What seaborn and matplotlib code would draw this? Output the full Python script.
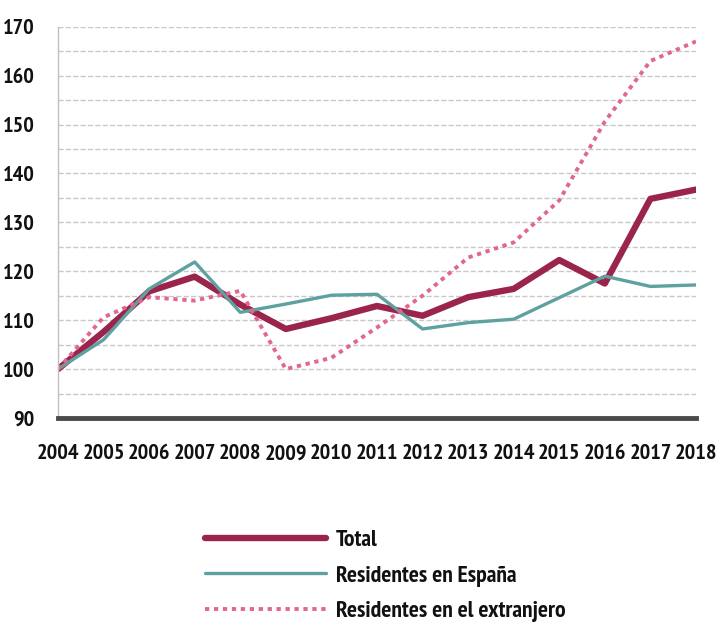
import matplotlib
matplotlib.use('Agg')
import matplotlib.pyplot as plt
from matplotlib.ticker import MultipleLocator
from matplotlib import font_manager
import seaborn as sns
import pandas as pd

years = list(range(2004, 2019))
total = [100, 107.6, 115.9, 118.9, 113.2, 108.2, 110.4, 112.9, 110.9, 114.7, 116.4, 122.3, 117.5, 134.8, 136.7]
espana = [100, 106.0, 116.4, 121.9, 111.6, 113.3, 115.1, 115.3, 108.2, 109.5, 110.2, 114.6, 119.0, 116.9, 117.2]
extranjero = [100, 110.6, 114.7, 114.0, 116.0, 100.0, 102.3, 108.5, 115.0, 122.8, 125.9, 134.5, 150.6, 163.0, 167.0]

labels = ['Total', 'Residentes en España', 'Residentes en el extranjero']
colors = ['#9b244b', '#5fa0a0', '#e06890']

sns.set_style('white')
plt.rcParams['font.family'] = ['DejaVu Sans']

# look for a condensed bold face on the system
cands = [f.fname for f in font_manager.fontManager.ttflist
         if ('Condensed' in f.fname or 'Narrow' in f.fname) and 'Bold' in f.fname
         and 'Oblique' not in f.fname and 'Italic' not in f.fname]
cands.sort(key=lambda p: ('Narrow' not in p, p))
if cands:
    fp_tick = font_manager.FontProperties(fname=cands[0], size=16)
    fp_leg = font_manager.FontProperties(fname=cands[0], size=17)
else:
    fp_tick = font_manager.FontProperties(family='DejaVu Sans', weight='bold', size=11)
    fp_leg = font_manager.FontProperties(family='DejaVu Sans', weight='bold', size=14)

fig = plt.figure(figsize=(7.16, 6.22), dpi=100)
ax = fig.add_axes([0.081, 0.328, 0.891, 0.629])

df = pd.DataFrame({'year': years, 'Total': total, 'Esp': espana, 'Ext': extranjero})

sns.lineplot(data=df, x='year', y='Total', ax=ax, color=colors[0], lw=4.6, label=labels[0])
sns.lineplot(data=df, x='year', y='Esp', ax=ax, color=colors[1], lw=2.4, label=labels[1])
sns.lineplot(data=df, x='year', y='Ext', ax=ax, color=colors[2], lw=2.8, label=labels[2])
ax.lines[2].set_dashes((1.1, 1.2))

ax.set_xlim(2004, 2018)
ax.set_ylim(90, 170)
ax.yaxis.set_major_locator(MultipleLocator(10))
ax.yaxis.set_minor_locator(MultipleLocator(5))
ax.set_xticks(years)
ax.set_xticklabels([str(y) for y in years])
ax.grid(axis='y', which='both', color='#c8c8c8', ls='--', lw=1)
ax.set_axisbelow(True)
ax.set_xlabel('')
ax.set_ylabel('')

for s in ['top', 'right']:
    ax.spines[s].set_visible(False)
ax.spines['left'].set_color('#c0c0c0')
ax.spines['left'].set_linewidth(1)
ax.spines['bottom'].set_color('#4a4a4a')
ax.spines['bottom'].set_linewidth(3.5)
ax.spines['bottom'].set_zorder(5)

ax.tick_params(axis='y', which='both', direction='out', length=10, width=1.2, color='#c0c0c0', pad=7)
ax.tick_params(axis='x', length=0, pad=19)
for t in ax.get_xticklabels() + ax.get_yticklabels():
    t.set_fontproperties(fp_tick)
    t.set_color('#111111')

ax.get_legend().remove()
h, l = ax.get_legend_handles_labels()
leg = fig.legend(h, l, loc='upper left', bbox_to_anchor=(0.257, 0.183), frameon=False,
                 handlelength=5.1, labelspacing=0.6, handletextpad=0.42, prop=fp_leg)
for t in leg.get_texts():
    t.set_color('#111111')

fig.savefig('out.png', dpi=100)
